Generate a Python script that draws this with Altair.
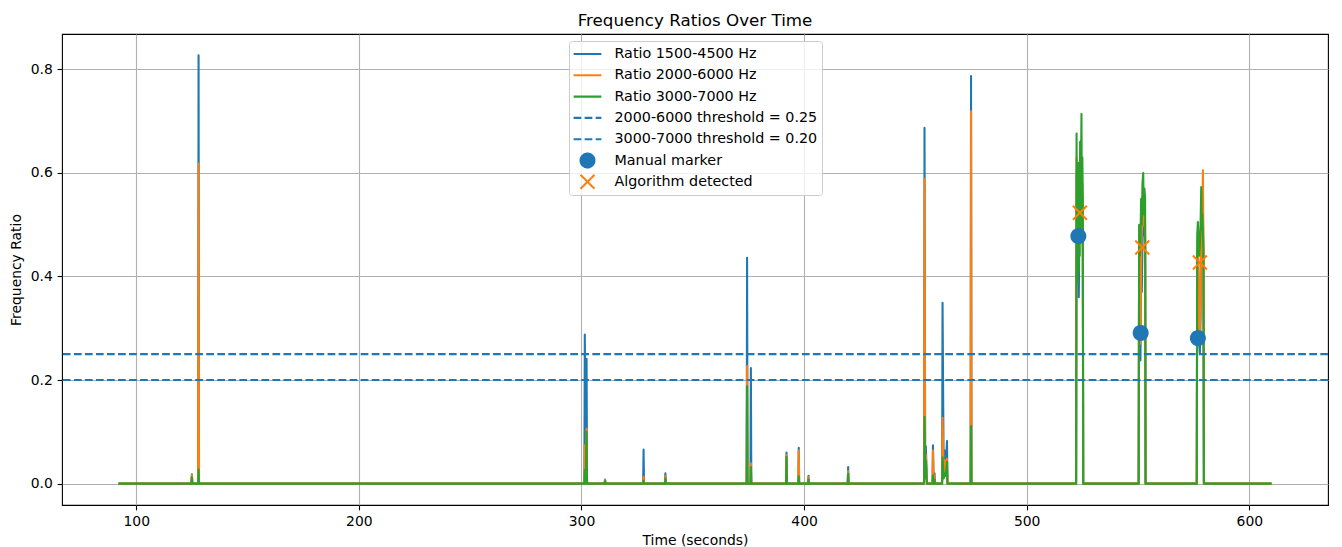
import altair as alt
import pandas as pd

# Band-energy ratios sampled over time (seconds)
time_s = [
    92.5, 124.8, 125.0, 125.2, 127.8, 128.0, 128.2,
    301.3, 301.5, 301.9, 302.3, 302.5,
    310.4, 310.6, 310.8, 327.7, 327.9, 328.1, 337.5, 337.7, 337.9,
    374.2, 374.4, 374.6, 375.9, 376.1, 376.3,
    391.9, 392.1, 392.3, 397.4, 397.6, 397.8, 401.8, 402.0, 402.2,
    419.6, 419.8, 420.0,
    453.9, 454.1, 454.4, 454.7, 455.0, 455.2,
    457.7, 457.9, 458.2, 458.6, 458.8,
    462.0, 462.2, 462.7, 463.3, 463.7, 464.2, 464.4,
    474.8, 475.0, 475.2,
    522.2, 522.4, 522.6, 522.8, 523.0, 523.2, 523.4, 523.6, 523.8,
    524.0, 524.2, 524.4, 524.6, 524.8, 525.0, 525.2, 525.4,
    550.3, 550.5, 550.8, 551.1, 551.4, 551.7, 552.0, 552.35, 552.6,
    552.9, 553.2, 553.4,
    576.4, 576.6, 576.9, 577.2, 577.5, 577.8, 578.1, 578.4, 578.7,
    578.9, 579.15, 579.4, 579.6,
    609.5,
]
ratio_1500_4500 = [
    0.0, 0.0, 0.018, 0.0, 0.0, 0.827, 0.0,
    0.0, 0.288, 0.0, 0.241, 0.0,
    0.0, 0.008, 0.0, 0.0, 0.066, 0.0, 0.0, 0.020, 0.0,
    0.0, 0.436, 0.0, 0.0, 0.223, 0.0,
    0.0, 0.060, 0.0, 0.0, 0.069, 0.0, 0.0, 0.015, 0.0,
    0.0, 0.032, 0.0,
    0.0, 0.687, 0.020, 0.072, 0.030, 0.0,
    0.0, 0.074, 0.0, 0.020, 0.0,
    0.0, 0.349, 0.020, 0.064, 0.030, 0.082, 0.0,
    0.0, 0.787, 0.0,
    0.0, 0.60, 0.52, 0.58, 0.41, 0.50, 0.36, 0.46, 0.50,
    0.55, 0.48, 0.52, 0.58, 0.50, 0.55, 0.45, 0.0,
    0.0, 0.44, 0.33, 0.238, 0.40, 0.37, 0.46, 0.52, 0.48,
    0.50, 0.47, 0.0,
    0.0, 0.44, 0.45, 0.38, 0.27, 0.25, 0.32, 0.47, 0.43,
    0.48, 0.52, 0.44, 0.0,
    0.0,
]
ratio_2000_6000 = [
    0.0, 0.0, 0.017, 0.0, 0.0, 0.618, 0.0,
    0.0, 0.074, 0.0, 0.106, 0.0,
    0.0, 0.007, 0.0, 0.0, 0.013, 0.0, 0.0, 0.014, 0.0,
    0.0, 0.227, 0.0, 0.0, 0.039, 0.0,
    0.0, 0.055, 0.0, 0.0, 0.064, 0.0, 0.0, 0.012, 0.0,
    0.0, 0.024, 0.0,
    0.0, 0.589, 0.015, 0.055, 0.020, 0.0,
    0.0, 0.064, 0.0, 0.015, 0.0,
    0.0, 0.127, 0.015, 0.045, 0.020, 0.048, 0.0,
    0.0, 0.719, 0.0,
    0.0, 0.63, 0.55, 0.60, 0.44, 0.52, 0.47, 0.50, 0.55,
    0.58, 0.52, 0.56, 0.62, 0.54, 0.58, 0.50, 0.0,
    0.0, 0.46, 0.30, 0.27, 0.43, 0.486, 0.50, 0.55, 0.50,
    0.53, 0.50, 0.0,
    0.0, 0.45, 0.47, 0.40, 0.30, 0.296, 0.35, 0.49, 0.45,
    0.50, 0.605, 0.47, 0.0,
    0.0,
]
ratio_3000_7000 = [
    0.0, 0.0, 0.012, 0.0, 0.0, 0.027, 0.0,
    0.0, 0.026, 0.0, 0.100, 0.0,
    0.0, 0.005, 0.0, 0.0, 0.006, 0.0, 0.0, 0.010, 0.0,
    0.0, 0.188, 0.0, 0.0, 0.032, 0.0,
    0.0, 0.052, 0.0, 0.0, 0.014, 0.0, 0.0, 0.008, 0.0,
    0.0, 0.019, 0.0,
    0.0, 0.129, 0.010, 0.045, 0.015, 0.0,
    0.0, 0.016, 0.0, 0.008, 0.0,
    0.0, 0.051, 0.010, 0.020, 0.015, 0.042, 0.0,
    0.0, 0.111, 0.0,
    0.0, 0.676, 0.43, 0.62, 0.39, 0.58, 0.41, 0.62, 0.44,
    0.66, 0.47, 0.60, 0.714, 0.52, 0.63, 0.55, 0.0,
    0.0, 0.50, 0.44, 0.47, 0.55, 0.50, 0.58, 0.600, 0.52,
    0.57, 0.55, 0.0,
    0.0, 0.48, 0.505, 0.47, 0.44, 0.46, 0.50, 0.573, 0.49,
    0.52, 0.48, 0.45, 0.0,
    0.0,
]

band_names = ["Ratio 1500-4500 Hz", "Ratio 2000-6000 Hz", "Ratio 3000-7000 Hz"]
threshold_names = ["2000-6000 threshold = 0.25", "3000-7000 threshold = 0.20"]
threshold_values = [0.25, 0.20]

manual_time = [523.2, 551.2, 576.9]
manual_ratio = [0.478, 0.291, 0.281]
detected_time = [523.9, 551.9, 577.8]
detected_ratio = [0.523, 0.456, 0.427]

x_ticks = [100, 200, 300, 400, 500, 600]
y_ticks = [0.0, 0.2, 0.4, 0.6, 0.8]

C0, C1, C2 = "#1f77b4", "#ff7f0e", "#2ca02c"
FONT = "DejaVu Sans"
LW = 2.08

series = [ratio_1500_4500, ratio_2000_6000, ratio_3000_7000]
long_rows = []
for name, vals in zip(band_names, series):
    for t, v in zip(time_s, vals):
        long_rows.append({"time": t, "ratio": v, "band": name})
lines_df = pd.DataFrame(long_rows)

# 5% margins around the data, as in a default matplotlib axes
x_pad = 0.05 * (max(time_s) - min(time_s))
all_vals = [v for s in series for v in s]
y_pad = 0.05 * (max(all_vals) - min(all_vals))
x_scale = alt.Scale(domain=[min(time_s) - x_pad, max(time_s) + x_pad], nice=False, zero=False)
y_scale = alt.Scale(domain=[min(all_vals) - y_pad, max(all_vals) + y_pad], nice=False, zero=False)

x_enc = alt.X("time:Q", scale=x_scale,
              axis=alt.Axis(values=x_ticks, format="d", title="Time (seconds)"))
y_enc = alt.Y("ratio:Q", scale=y_scale,
              axis=alt.Axis(values=y_ticks, format=".1f", title="Frequency Ratio"))

base = alt.Chart(lines_df)
line_layers = [
    base.transform_filter(alt.datum.band == name)
    .mark_line(color=col, strokeWidth=LW, strokeJoin="round", strokeCap="square")
    .encode(x=x_enc, y=y_enc)
    for name, col in zip(band_names, [C0, C1, C2])
]

thr_df = pd.DataFrame({"ratio": threshold_values, "entry": threshold_names})
rules = alt.Chart(thr_df).mark_rule(
    color=C0, strokeWidth=LW, strokeDash=[7.7, 3.33]
).encode(y=y_enc)

# Markers and the single combined legend
entries = band_names + threshold_names + ["Manual marker", "Algorithm detected"]
HLINE = "M-2,0L2,0"
XMARK = "M-1,-1L1,1M-1,1L1,-1"
shape_range = [HLINE] * 5 + ["circle", XMARK]
fill_range = ["transparent"] * 5 + [C0, "transparent"]
stroke_range = [C0, C1, C2, C0, C0, C0, C1]
dash_range = [[1, 0]] * 3 + [[7.7, 3.33]] * 2 + [[1, 0]] * 2

pts_df = pd.DataFrame({
    "time": manual_time + detected_time,
    "ratio": manual_ratio + detected_ratio,
    "entry": ["Manual marker"] * len(manual_time) + ["Algorithm detected"] * len(detected_time),
})

legend = alt.Legend(
    title=None, orient="none", legendX=507, legendY=7, direction="vertical",
    fillColor="rgba(255,255,255,0.8)", strokeColor="#cccccc", cornerRadius=3,
    padding=4, labelFont=FONT, labelFontSize=14.3, labelColor="black",
    symbolSize=193, symbolStrokeWidth=LW, symbolOpacity=1,
    symbolOffset=6.5, labelOffset=19, clipHeight=18, rowPadding=3.3, labelLimit=400,
)

points = alt.Chart(pts_df).mark_point(size=193, strokeWidth=LW, opacity=1).encode(
    x=x_enc, y=y_enc,
    shape=alt.Shape("entry:N", scale=alt.Scale(domain=entries, range=shape_range), legend=legend),
    fill=alt.Fill("entry:N", scale=alt.Scale(domain=entries, range=fill_range), legend=legend),
    stroke=alt.Stroke("entry:N", scale=alt.Scale(domain=entries, range=stroke_range), legend=legend),
    strokeDash=alt.StrokeDash("entry:N", scale=alt.Scale(domain=entries, range=dash_range), legend=legend),
)

chart = alt.layer(*line_layers, rules, points).properties(
    width=1266, height=471,
    padding={"left": 62, "top": 34, "right": 14, "bottom": 42},
    autosize=alt.AutoSizeParams(type="none"),
    title=alt.TitleParams("Frequency Ratios Over Time", font=FONT, fontSize=16.7,
                          fontWeight="normal", color="black", anchor="middle",
                          offset=-9, baseline="alphabetic"),
).configure_view(
    stroke="black", strokeWidth=1.1
).configure_axis(
    grid=True, gridColor="#b0b0b0", gridWidth=1.1, domain=False,
    tickColor="black", tickSize=4.86, tickWidth=1.1,
    labelFont=FONT, labelFontSize=13.9, labelColor="black", labelPadding=4.86,
    titleFont=FONT, titleFontSize=13.9, titleFontWeight="normal", titleColor="black",
).configure_axisX(titlePadding=5).configure_axisY(titlePadding=7)

chart.save("out.html", embed_options={"renderer": "svg", "actions": False})
